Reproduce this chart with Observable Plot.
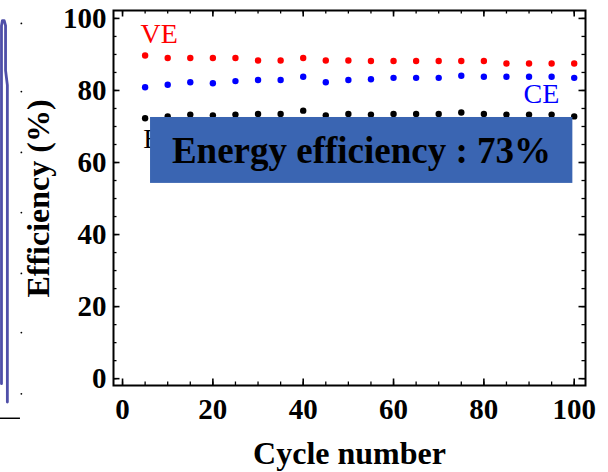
<!DOCTYPE html>
<html><head><meta charset="utf-8">
<script src="https://cdn.jsdelivr.net/npm/d3@7"></script>
<script src="https://cdn.jsdelivr.net/npm/@observablehq/plot@0.6"></script>
<style>body{margin:0;background:#fff}</style>
</head><body><div id="chart"></div>
<script>
// ---- data ----
const cycles = [5,10,15,20,25,30,35,40,45,50,55,60,65,70,75,80,85,90,95,100];
const ve = [89.7,89.0,89.0,89.0,89.0,88.3,88.3,89.0,88.3,88.3,88.2,88.2,88.2,88.2,88.2,88.2,87.5,87.5,87.5,87.5];
const ce = [80.9,81.6,82.3,82.0,82.6,82.9,82.9,83.8,82.3,82.9,83.1,83.5,83.5,83.5,84.1,83.8,83.8,83.8,83.8,83.5];
const ee = [72.3,72.8,73.3,73.1,73.3,73.5,73.5,74.4,73.1,73.5,73.3,73.5,73.5,73.5,73.9,73.5,73.3,73.3,73.3,72.8];
const xTickValues = [0,20,40,60,80,100];
const yTickValues = [0,20,40,60,80,100];
const minorTickValues = [0,5,10,15,20,25,30,35,40,45,50,55,60,65,70,75,80,85,90,95,100];
const seriesLabels = [
  {label:"VE", x:4.0, y:95.6, color:"#ff0000"},
  {label:"CE", x:88.8, y:78.9, color:"#0000ff"},
  {label:"EE", x:4.6, y:66.4, color:"#000000"}
];
const noteBox = [{x1:6.2, x2:99.7, y1:54.2, y2:72.5}];
const noteText = [{label:"Energy efficiency : 73%", x:52.9, y:63.1}];
const yTitle = [{label:"Efficiency (%)", y:50}];
// fragment of the neighbouring panel on the left edge
const fragX = [-26.8,-26.8,-26.6,-26.2,-25.9,-25.9,-25.5,-25.5];
const fragY = [-1.4,98.0,99.4,99.4,98.0,85.6,81.5,-6.5];
const fragTickY = [98.6,79.7,62.8,46.1,29.2,12.8,-4.2];
const fragAxis = [{x1:-27.2, x2:-22.6, y:-11.0}];

// ---- build ----
const W = 608, H = 472, mL = 113, mR = 23, mT = 10, mB = 87;
const iw = W - mL - mR, ih = H - mT - mB;
const points = cycles.flatMap((c,i)=>[
  {cycle:c, value:ve[i], s:"VE"},
  {cycle:c, value:ce[i], s:"CE"},
  {cycle:c, value:ee[i], s:"EE"}
]);
const colorOf = {VE:"#ff0000", CE:"#0000ff", EE:"#000000"};
const frag = fragX.map((x,i)=>({x, y:fragY[i]}));
const major = 6.5, minor = 3.5;
const font = "'Liberation Serif','Times New Roman',serif";

const chart = Plot.plot({
  width: W, height: H,
  marginLeft: mL, marginRight: mR, marginTop: mT, marginBottom: mB,
  x: {domain: [-2, 102.5]},
  y: {domain: [-1.9, 102.2]},
  style: {fontFamily: font, background: "white", color: "black"},
  marks: [
    Plot.line(frag, {x:"x", y:"y", stroke:"#4f4fa8", strokeWidth:2.8}),
    Plot.ruleY(fragAxis, {y:"y", x1:"x1", x2:"x2", stroke:"black", strokeWidth:1.5}),
    Plot.dot(fragTickY, {x:()=>-22.4, y:d=>d, r:0.9, fill:"black"}),
    // inward mirrored ticks
    Plot.tickX(minorTickValues, {x:d=>d, insetTop: ih - minor, strokeWidth:1.3}),
    Plot.tickX(minorTickValues, {x:d=>d, insetBottom: ih - minor, strokeWidth:1.3}),
    Plot.tickX(xTickValues, {x:d=>d, insetTop: ih - major, strokeWidth:1.6}),
    Plot.tickX(xTickValues, {x:d=>d, insetBottom: ih - major, strokeWidth:1.6}),
    Plot.tickY(minorTickValues, {y:d=>d, insetRight: iw - minor, strokeWidth:1.3}),
    Plot.tickY(minorTickValues, {y:d=>d, insetLeft: iw - minor, strokeWidth:1.3}),
    Plot.tickY(yTickValues, {y:d=>d, insetRight: iw - major, strokeWidth:1.6}),
    Plot.tickY(yTickValues, {y:d=>d, insetLeft: iw - major, strokeWidth:1.6}),
    Plot.frame({stroke:"black", strokeWidth:2}),
    Plot.axisX(xTickValues, {tickSize:0, tickPadding:13, fontSize:29, fontWeight:"bold", label:null}),
    Plot.axisY(yTickValues, {tickSize:0, tickPadding:7, fontSize:29, fontWeight:"bold", label:null}),
    Plot.text(["Cycle number"], {frameAnchor:"bottom", dy:68, lineAnchor:"middle", textAnchor:"middle", fontSize:32, fontWeight:"bold"}),
    Plot.text(yTitle, {y:"y", text:"label", frameAnchor:"left", dx:-75, rotate:-90, textAnchor:"middle", lineAnchor:"middle", fontSize:32, fontWeight:"bold"}),
    Plot.dot(points, {x:"cycle", y:"value", r:3.2, fill:d=>colorOf[d.s], stroke:"none"}),
    Plot.text(seriesLabels, {x:"x", y:"y", text:"label", fill:"color", textAnchor:"start", fontSize:28}),
    Plot.rect(noteBox, {x1:"x1", x2:"x2", y1:"y1", y2:"y2", fill:"#3a65b2"}),
    Plot.text(noteText, {x:"x", y:"y", text:"label", fontSize:37, fontWeight:"bold", fill:"black"})
  ]
});
document.getElementById("chart").appendChild(chart);
</script>
</body></html>
